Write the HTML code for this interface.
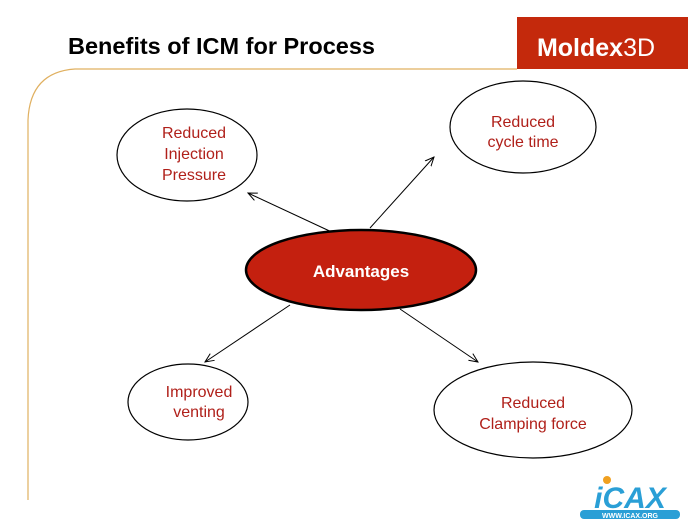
<!DOCTYPE html>
<html><head><style>
body{margin:0;background:#fff;}
svg{display:block;font-family:"Liberation Sans",Arial,sans-serif;}
</style></head><body>
<svg width="700" height="525" viewBox="0 0 700 525">
<defs><marker id="a" markerWidth="10" markerHeight="10" refX="9" refY="5" orient="auto" markerUnits="userSpaceOnUse"><path d="M0,1 L9,5 L0,9" fill="none" stroke="#000" stroke-width="1"/></marker></defs>
<rect x="517" y="17" width="171" height="52" fill="#c4290c"/>
<text x="596" y="56" text-anchor="middle" font-size="25" fill="#fff"><tspan font-weight="bold">Moldex</tspan>3D</text>
<text x="68" y="54" font-size="23" font-weight="bold" fill="#000" textLength="307" lengthAdjust="spacingAndGlyphs">Benefits of ICM for Process</text>
<path d="M517,69 L75,69 Q30,72 28,120 L28,500" fill="none" stroke="#e0b060" stroke-width="1.2"/>
<g stroke="#000" stroke-width="1" fill="none">
<line x1="336" y1="234" x2="248" y2="193" marker-end="url(#a)"/>
<line x1="370" y1="228" x2="434" y2="157" marker-end="url(#a)"/>
<line x1="290" y1="305" x2="205" y2="362" marker-end="url(#a)"/>
<line x1="400" y1="309" x2="478" y2="362" marker-end="url(#a)"/>
</g>
<g stroke="#000" stroke-width="1.2" fill="#fff">
<ellipse cx="187" cy="155" rx="70" ry="46"/>
<ellipse cx="523" cy="127" rx="73" ry="46"/>
<ellipse cx="188" cy="402" rx="60" ry="38"/>
<ellipse cx="533" cy="410" rx="99" ry="48"/>
</g>
<ellipse cx="361" cy="270" rx="115" ry="40" fill="#c4200f" stroke="#000" stroke-width="2.5"/>
<text x="361" y="277" text-anchor="middle" font-size="17" font-weight="bold" fill="#fff">Advantages</text>
<g font-size="16" fill="#b0201a" text-anchor="middle">
<text x="194" y="138">Reduced</text><text x="194" y="159">Injection</text><text x="194" y="180">Pressure</text>
<text x="523" y="127">Reduced</text><text x="523" y="147">cycle time</text>
<text x="199" y="397">Improved</text><text x="199" y="417">venting</text>
<text x="533" y="408">Reduced</text><text x="533" y="429">Clamping force</text>
</g>
<g>
<text x="630" y="508" text-anchor="middle" font-size="30" font-style="italic" font-weight="bold" fill="#2a9fd6">iCAX</text>
<rect x="580" y="510" width="100" height="9" rx="4" fill="#2a9fd6"/>
<text x="630" y="518" text-anchor="middle" font-size="7" font-weight="bold" fill="#fff">WWW.ICAX.ORG</text>
<circle cx="607" cy="480" r="4" fill="#f0a020"/>
</g>
</svg>
</body></html>
